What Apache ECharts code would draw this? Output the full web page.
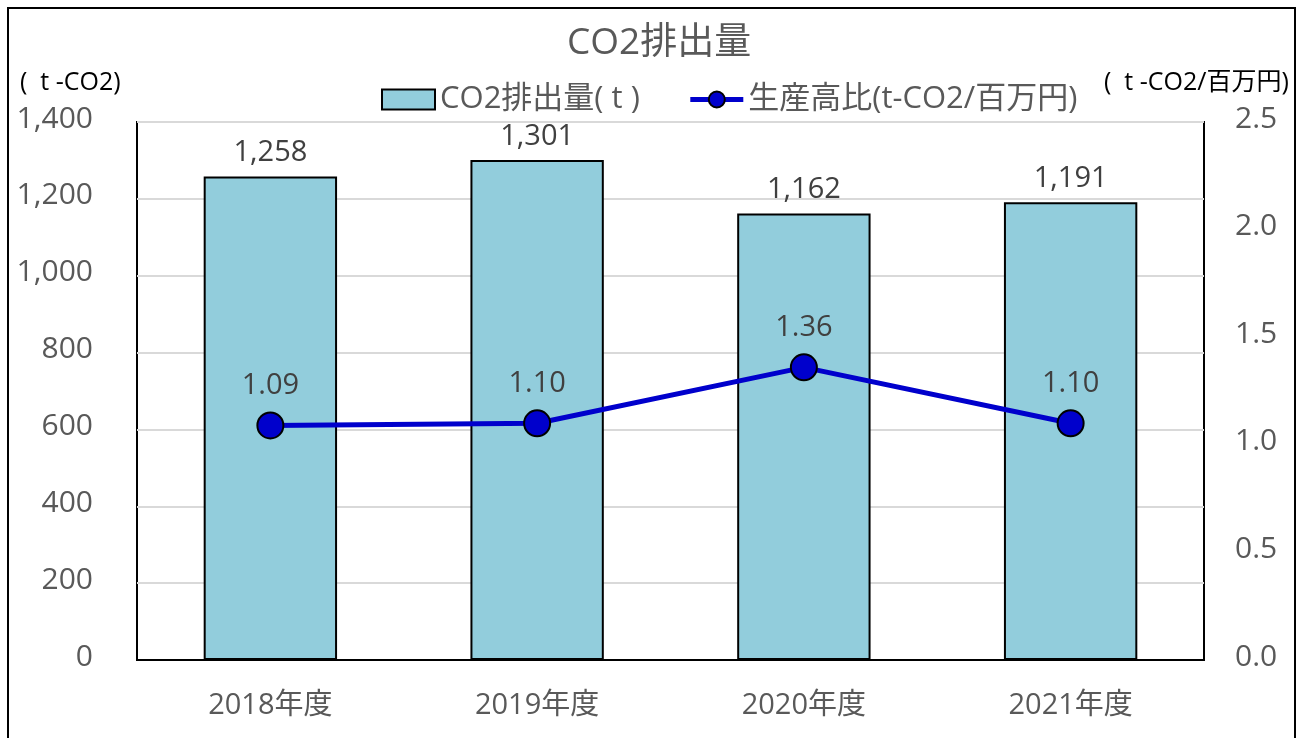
<!DOCTYPE html>
<html><head><meta charset="utf-8">
<script src="https://cdn.jsdelivr.net/npm/echarts@6/dist/echarts.min.js"></script>
<style>html,body{margin:0;padding:0;background:#fff}#c{width:1301px;height:738px}</style>
</head><body><div id="c"></div>
<script>
const categories = ['2018年度','2019年度','2020年度','2021年度'];
const emissions = [1258, 1301, 1162, 1191];
const intensity = [1.09, 1.10, 1.36, 1.10];
const leftTicks = [0, 1400, 200];
const rightTicks = [0, 2.5, 0.5];
const FONT = '"Open Sans", "Noto Sans CJK JP", sans-serif';
const chart = echarts.init(document.getElementById('c'));
chart.setOption({
  backgroundColor: '#fff',
  animation: false,
  title: { text: 'CO2排出量', left: 562, top: 20, textStyle: { fontFamily: FONT, fontSize: 37, fontWeight: 'normal', color: '#595959' } },
  legend: {
    top: 79, left: 376, itemWidth: 53, itemHeight: 20, itemGap: 48,
    textStyle: { fontFamily: FONT, fontSize: 31, color: '#595959' },
    data: [
      { name: 'CO2排出量( t )', icon: 'rect' },
      { name: '生産高比(t-CO2/百万円)', lineStyle: { width: 5, color: '#0000CC' }, itemStyle: { color: '#0000CC', borderColor: '#000', borderWidth: 2 } }
    ]
  },
  grid: { left: 137, right: 97, top: 122, bottom: 78, show: true, borderColor: '#000', borderWidth: 2, containLabel: false },
  xAxis: {
    type: 'category', data: categories,
    axisLine: { show: true, lineStyle: { color: '#000', width: 2 } }, axisTick: { show: false },
    axisLabel: { fontFamily: FONT, fontSize: 29, color: '#595959', margin: 31 }
  },
  yAxis: [
    { type: 'value', min: leftTicks[0], max: leftTicks[1], interval: leftTicks[2],
      axisLine: { show: false }, axisTick: { show: false },
      splitLine: { lineStyle: { color: '#d9d9d9', width: 2 } },
      axisLabel: { fontFamily: FONT, fontSize: 30, color: '#595959', margin: 44, verticalAlign: 'bottom', lineHeight: 30, padding: [0,0,-12,0], formatter: v => v.toLocaleString('en-US') } },
    { type: 'value', min: rightTicks[0], max: rightTicks[1], interval: rightTicks[2],
      axisLine: { show: false }, axisTick: { show: false }, splitLine: { show: false },
      axisLabel: { fontFamily: FONT, fontSize: 30, color: '#595959', margin: 31, verticalAlign: 'bottom', lineHeight: 30, padding: [0,0,-12,0], formatter: v => v.toFixed(1) } }
  ],
  series: [
    { name: 'CO2排出量( t )', type: 'bar', data: emissions, barWidth: '50%',
      itemStyle: { color: '#92CDDC', borderColor: '#000', borderWidth: 2 },
      label: { show: true, position: 'top', distance: 9, fontFamily: FONT, fontSize: 29, color: '#404040', formatter: p => p.value.toLocaleString('en-US') } },
    { name: '生産高比(t-CO2/百万円)', type: 'line', yAxisIndex: 1, data: intensity,
      symbol: 'circle', symbolSize: 26,
      lineStyle: { color: '#0000CC', width: 5 },
      itemStyle: { color: '#0000CC', borderColor: '#000', borderWidth: 2 },
      label: { show: true, position: 'top', distance: 11, fontFamily: FONT, fontSize: 29, color: '#404040', formatter: p => p.value.toFixed(2) } }
  ],
  graphic: [
    { type: 'rect', shape: { x: 8, y: 8, width: 1287, height: 740 }, style: { fill: 'none', stroke: '#000', lineWidth: 2 }, z: -1 },
    { type: 'text', left: 20, top: 70, style: { text: '(  t -CO2)', font: '25px ' + FONT, fill: '#000' } },
    { type: 'text', left: 1104, top: 70, style: { text: '(  t -CO2/百万円)', font: '25px ' + FONT, fill: '#000' } }
  ]
});
</script></body></html>
